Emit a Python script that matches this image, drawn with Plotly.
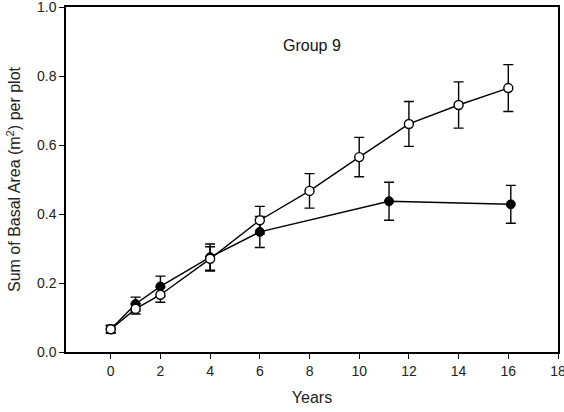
import plotly.graph_objects as go

# Open-circle series
open_years = [0, 1, 2, 4, 6, 8, 10, 12, 14, 16]
open_ba = [0.066, 0.125, 0.166, 0.270, 0.382, 0.467, 0.565, 0.661, 0.716, 0.765]
open_err = [0.012, 0.015, 0.022, 0.035, 0.040, 0.050, 0.057, 0.065, 0.067, 0.068]

# Filled-circle series
filled_years = [0, 1, 2, 4, 6, 11.2, 16.1]
filled_ba = [0.066, 0.139, 0.190, 0.275, 0.348, 0.437, 0.428]
filled_err = [0.010, 0.020, 0.030, 0.038, 0.045, 0.055, 0.055]

x_ticks = [0, 2, 4, 6, 8, 10, 12, 14, 16, 18]
y_ticks = [0.0, 0.2, 0.4, 0.6, 0.8, 1.0]

fig = go.Figure()

fig.add_trace(go.Scatter(
    x=filled_years, y=filled_ba, mode="lines+markers",
    line=dict(color="black", width=1.4),
    marker=dict(symbol="circle", size=9, color="black",
                line=dict(color="black", width=1)),
    error_y=dict(type="data", array=filled_err, visible=True,
                 color="black", thickness=1.4, width=5),
    showlegend=False,
))

fig.add_trace(go.Scatter(
    x=open_years, y=open_ba, mode="lines+markers",
    line=dict(color="black", width=1.4),
    marker=dict(symbol="circle", size=9, color="white",
                line=dict(color="black", width=1.4)),
    error_y=dict(type="data", array=open_err, visible=True,
                 color="black", thickness=1.4, width=5),
    showlegend=False,
))

font = dict(family="Liberation Sans, Arial, sans-serif", color="#222", size=14)

fig.update_layout(
    width=564, height=412,
    margin=dict(l=66, r=6, t=7, b=60, autoexpand=False),
    paper_bgcolor="white", plot_bgcolor="white",
    font=font,
    xaxis=dict(
        range=[-1.8, 18], tickvals=x_ticks,
        ticktext=[str(t) for t in x_ticks],
        ticks="outside", ticklen=5, tickwidth=1.2, tickcolor="black",
        tickfont=dict(size=14), automargin=False, ticklabeloverflow="allow",
        showline=True, linecolor="black", linewidth=1.5, mirror=True,
        showgrid=False, zeroline=False,
        title=dict(text="Years", font=dict(size=16), standoff=14),
    ),
    yaxis=dict(
        range=[0, 1.0], tickvals=y_ticks,
        ticktext=[f"{t:.1f}" for t in y_ticks],
        ticks="outside", ticklen=5, tickwidth=1.2, tickcolor="black",
        tickfont=dict(size=14), automargin=False, ticklabeloverflow="allow",
        showline=True, linecolor="black", linewidth=1.5, mirror=True,
        showgrid=False, zeroline=False,
        title=dict(text="Sum of Basal Area (m<sup>2</sup>) per plot",
                   font=dict(size=16), standoff=12),
    ),
    annotations=[dict(
        text="Group 9", x=0.5, y=0.92, xref="paper", yref="paper",
        showarrow=False, font=dict(size=16, color="#111"),
    )],
)

fig.write_html("out.html")
